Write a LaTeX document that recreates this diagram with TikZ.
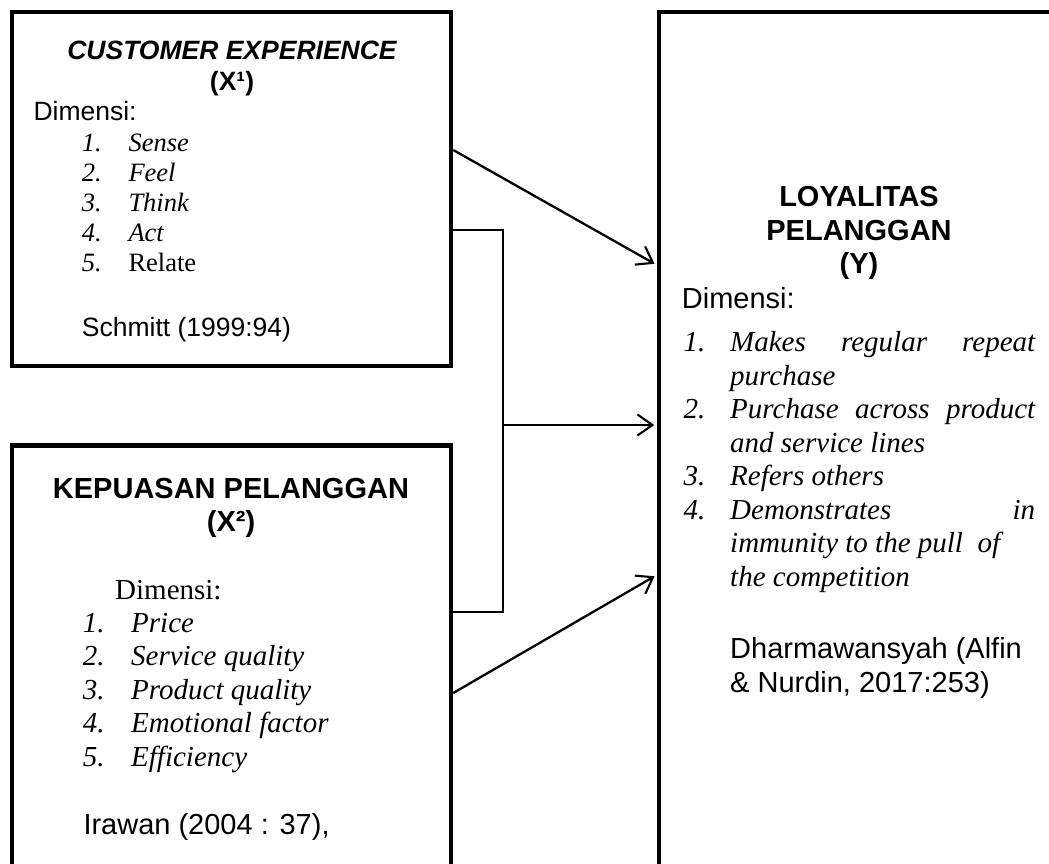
\documentclass[tikz,border=0pt]{standalone}
\usepackage{fontspec}
\setmainfont{Liberation Serif}
\setsansfont{Liberation Sans}
\usetikzlibrary{arrows.meta}

\newcommand{\cxsize}{\fontsize{26.5pt}{30pt}\selectfont}
\newcommand{\stdsize}{\fontsize{29pt}{33.5pt}\selectfont}

\tikzset{
    box/.style={draw, line width=4.5pt, inner sep=0pt},
    conn/.style={line width=2.3pt, shorten >=2.5pt, -{Straight Barb[length=15pt,width=21pt,line width=2.1pt]}},
    brk/.style={line width=1.7pt},
    txt/.style={anchor=base west, inner sep=0pt},
    ttl/.style={anchor=base, inner sep=0pt, align=center}
}

\begin{document}
\begin{tikzpicture}[x=1pt, y=-1pt]
        \useasboundingbox (0,0) rectangle (1049,863);
        \clip (0,0) rectangle (1049,863);
        % boxes
        \node[box, minimum width=439pt, minimum height=354pt] (cx) at (231.5,189) {};
        \node[box, minimum width=439pt, minimum height=454.5pt] (kp) at (231.5,672.75) {};
        \node[box, minimum width=441pt, minimum height=888pt] (ly) at (879.5,456) {};
        % customer experience
        \node[ttl, font=\sffamily\bfseries\itshape\cxsize] (cxt) at (232,59) {CUSTOMER EXPERIENCE};
        \node[ttl, font=\sffamily\bfseries\cxsize] (cxv) at (232,90.5) {(X¹)};
        \node[txt, font=\sffamily\cxsize] (cxd) at (33.3,120.7) {Dimensi:};
        \node[txt, font=\itshape\cxsize] (cxn1) at (81.7,151.5) {1.};
        \node[txt, font=\itshape\cxsize] (cxi1) at (128.3,151.5) {Sense};
        \node[txt, font=\itshape\cxsize] (cxn2) at (81.7,181.5) {2.};
        \node[txt, font=\itshape\cxsize] (cxi2) at (128.3,181.5) {Feel};
        \node[txt, font=\itshape\cxsize] (cxn3) at (81.7,211.5) {3.};
        \node[txt, font=\itshape\cxsize] (cxi3) at (128.3,211.5) {Think};
        \node[txt, font=\itshape\cxsize] (cxn4) at (81.7,241.5) {4.};
        \node[txt, font=\itshape\cxsize] (cxi4) at (128.3,241.5) {Act};
        \node[txt, font=\itshape\cxsize] (cxn5) at (81.7,271.5) {5.};
        \node[txt, font=\cxsize] (cxi5) at (128.3,271.5) {Relate};
        \node[txt, font=\sffamily\cxsize] (cxs) at (81.7,336.7) {Schmitt (1999:94)};
        % kepuasan pelanggan
        \node[ttl, font=\sffamily\bfseries\stdsize] (kpt) at (231,498.3) {KEPUASAN PELANGGAN};
        \node[ttl, font=\sffamily\bfseries\stdsize] (kpv) at (231,531.7) {(X²)};
        \node[txt, font=\stdsize] (kpd) at (115,599) {Dimensi:};
        \node[txt, font=\itshape\stdsize] (kpn1) at (82.7,632) {1.};
        \node[txt, font=\itshape\stdsize] (kpi1) at (131,632) {Price};
        \node[txt, font=\itshape\stdsize] (kpn2) at (82.7,665.5) {2.};
        \node[txt, font=\itshape\stdsize] (kpi2) at (131,665.5) {Service quality};
        \node[txt, font=\itshape\stdsize] (kpn3) at (82.7,699) {3.};
        \node[txt, font=\itshape\stdsize] (kpi3) at (131,699) {Product quality};
        \node[txt, font=\itshape\stdsize] (kpn4) at (82.7,732.5) {4.};
        \node[txt, font=\itshape\stdsize] (kpi4) at (131,732.5) {Emotional factor};
        \node[txt, font=\itshape\stdsize] (kpn5) at (82.7,766) {5.};
        \node[txt, font=\itshape\stdsize] (kpi5) at (131,766) {Efficiency};
        \node[txt, font=\sffamily\stdsize] (kps) at (83.3,834.3) {Irawan (2004 : 37),};
        % loyalitas pelanggan
        \node[ttl, font=\sffamily\bfseries\stdsize] (lyt1) at (859,206.7) {LOYALITAS};
        \node[ttl, font=\sffamily\bfseries\stdsize] (lyt2) at (859,240) {PELANGGAN};
        \node[ttl, font=\sffamily\bfseries\stdsize] (lyv) at (859,273.3) {(Y)};
        \node[txt, font=\sffamily\stdsize] (lyd) at (681.7,308.3) {Dimensi:};
        \node[txt, font=\itshape\stdsize] (lyn1) at (683.3,351.7) {1.};
        \node[txt, font=\itshape\stdsize] (lyi1) at (730,351.7) {\makebox[305pt][s]{Makes regular repeat}};
        \node[txt, font=\itshape\stdsize] (lyi1b) at (730,385.2) {purchase};
        \node[txt, font=\itshape\stdsize] (lyn2) at (683.3,418.7) {2.};
        \node[txt, font=\itshape\stdsize] (lyi2) at (730,418.7) {\makebox[305pt][s]{Purchase across product}};
        \node[txt, font=\itshape\stdsize] (lyi2b) at (730,452.2) {and service lines};
        \node[txt, font=\itshape\stdsize] (lyn3) at (683.3,485.7) {3.};
        \node[txt, font=\itshape\stdsize] (lyi3) at (730,485.7) {Refers others};
        \node[txt, font=\itshape\stdsize] (lyn4) at (683.3,519.2) {4.};
        \node[txt, font=\itshape\stdsize] (lyi4) at (730,519.2) {\makebox[305pt][s]{Demonstrates in}};
        \node[txt, font=\itshape\stdsize] (lyi4b) at (730,552.7) {immunity to the pull\ \ of};
        \node[txt, font=\itshape\stdsize] (lyi4c) at (730,586.2) {the competition};
        \node[txt, font=\sffamily\stdsize] (lys1) at (730,658.3) {Dharmawansyah (Alfin};
        \node[txt, font=\sffamily\stdsize] (lys2) at (730,692) {\& Nurdin, 2017:253)};
        % connectors
        \coordinate (jn) at (503,425);
        \draw[brk] ([yshift=-41pt]cx.east) -| (jn) |- ([yshift=60.75pt]kp.east);
        \draw[conn] ([yshift=39pt]cx.east) -- ([yshift=191pt]ly.west);
        \draw[conn] (jn) -- (jn -| ly.west);
        \draw[conn] ([yshift=-20.25pt]kp.east) -- ([yshift=-119pt]ly.west);
    \end{tikzpicture}
\end{document}
